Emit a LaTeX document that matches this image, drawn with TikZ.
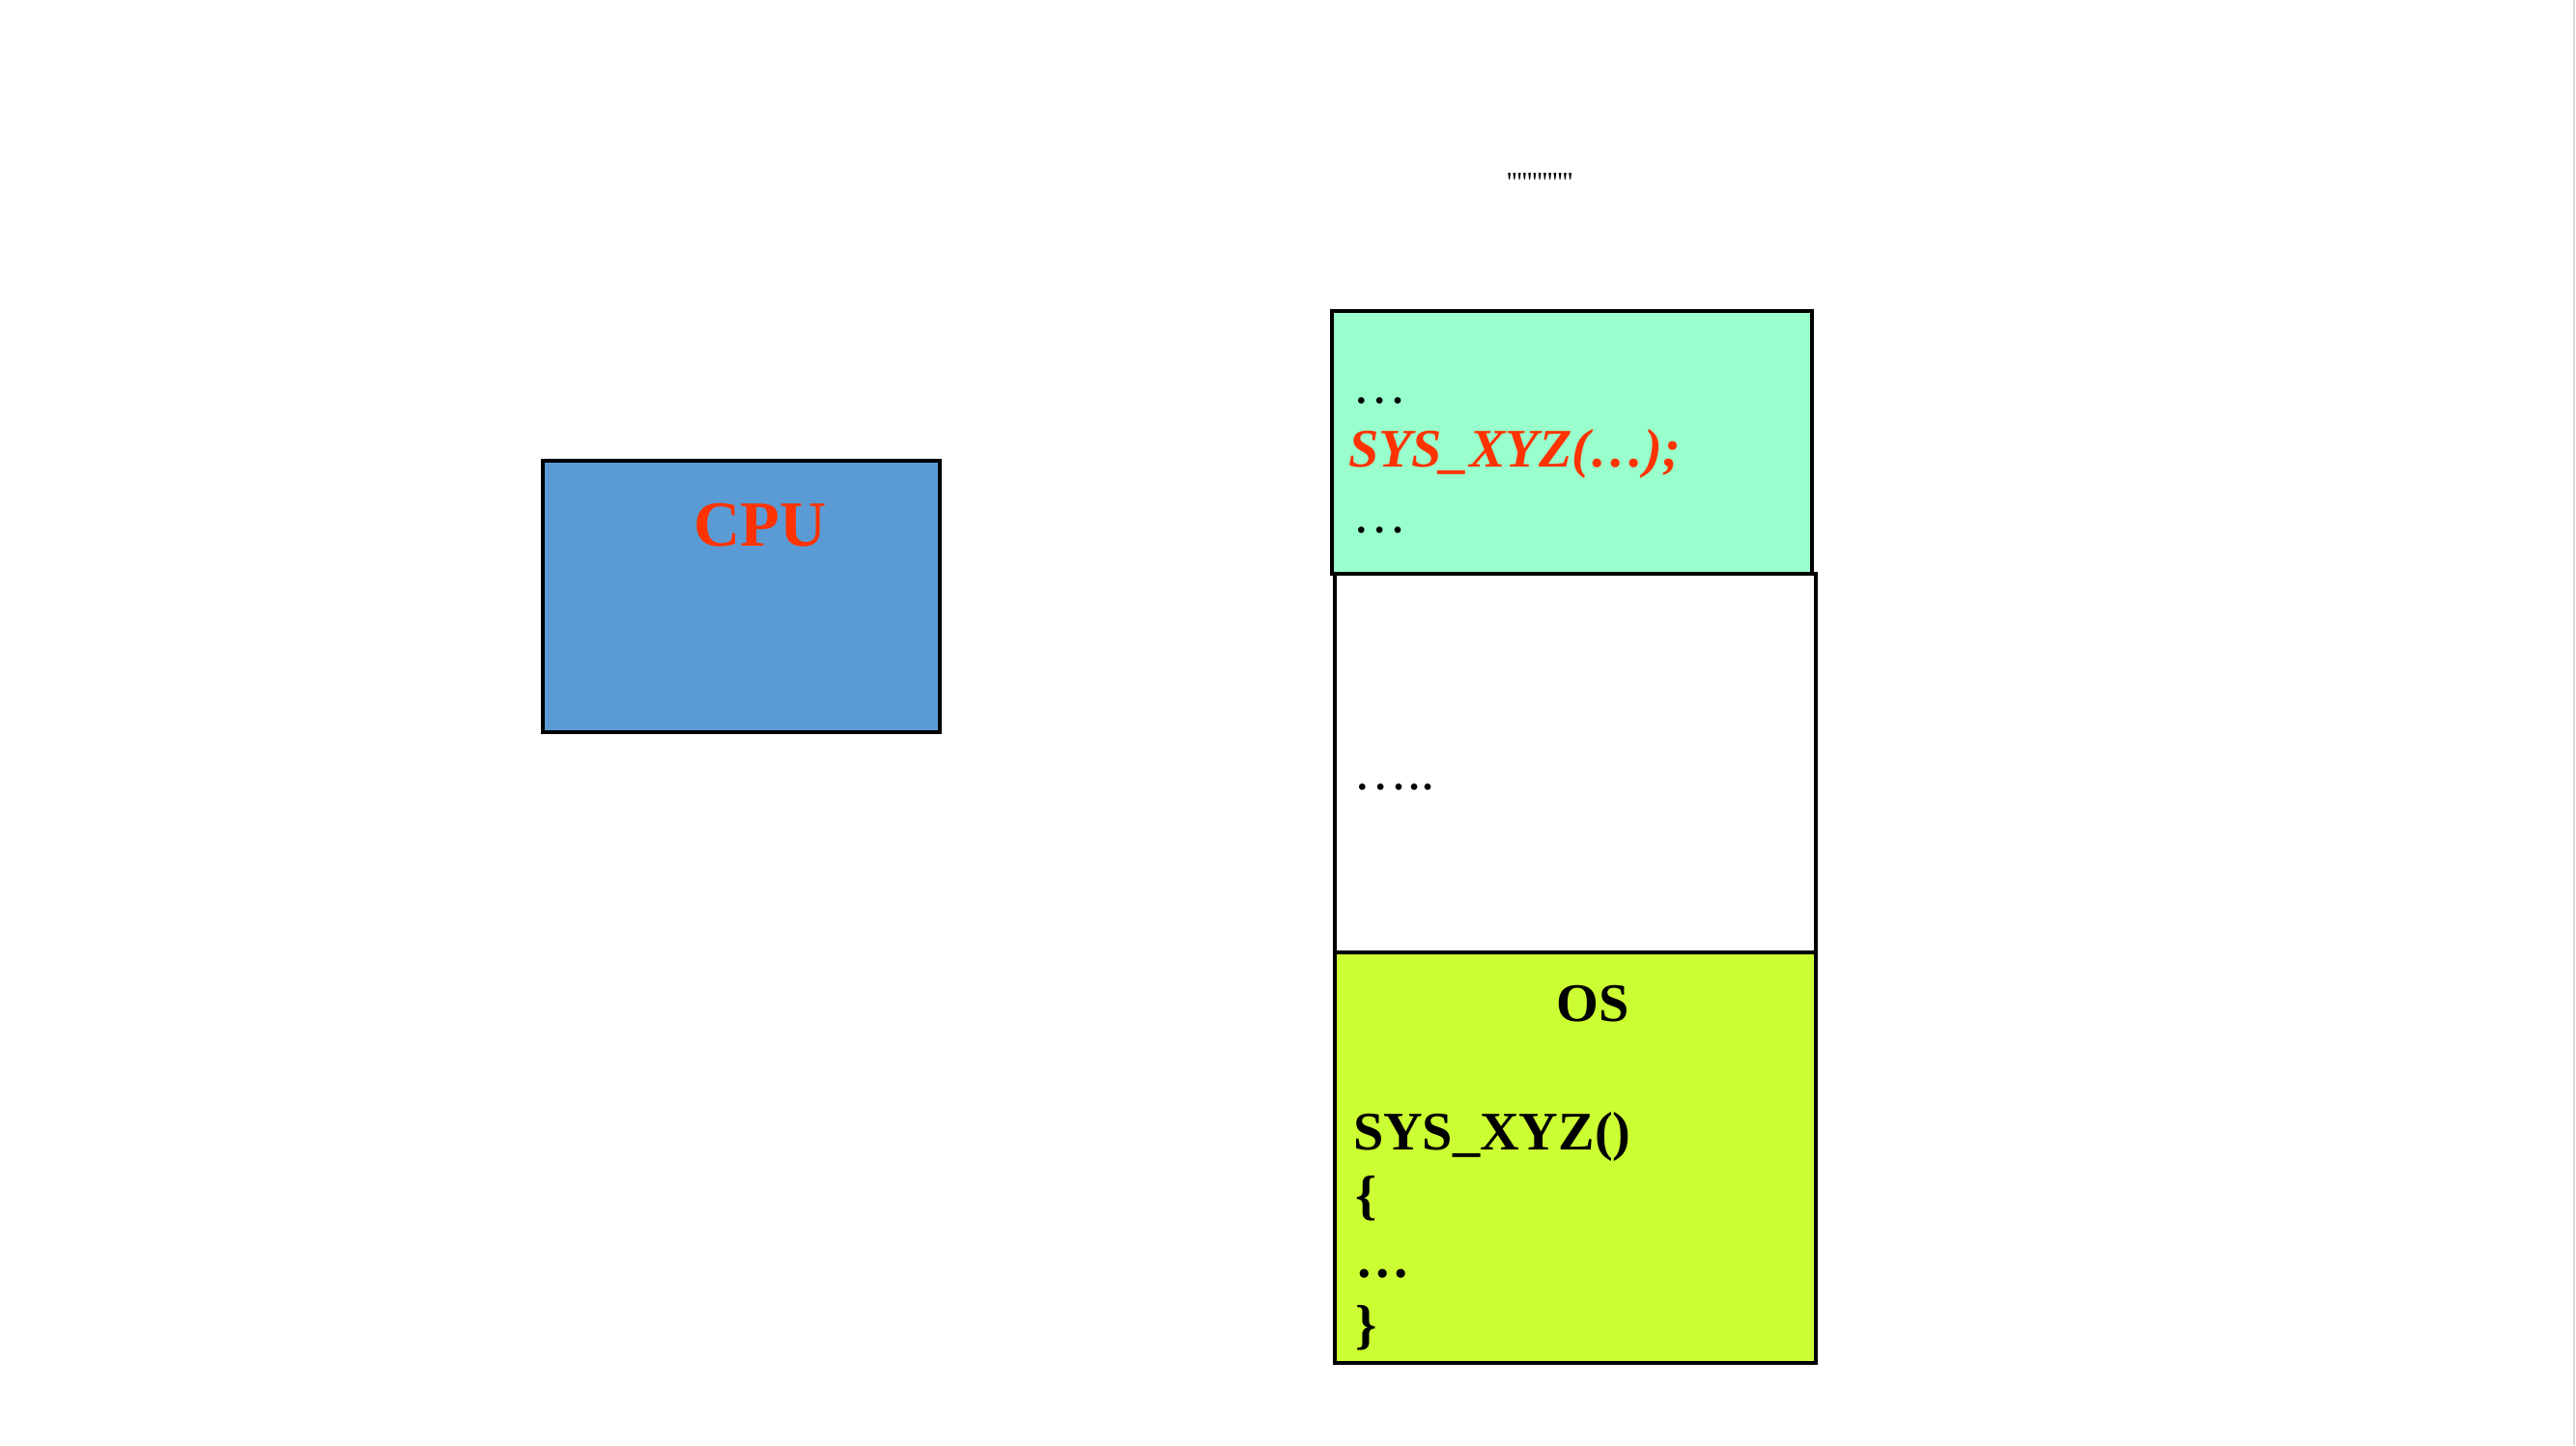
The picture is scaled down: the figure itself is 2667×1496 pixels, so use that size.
\documentclass[tikz,border=0pt]{standalone}
\usepackage{fontspec}
\setmainfont{Liberation Serif}
\usepackage{tikz}

\definecolor{cpublue}{HTML}{5B9BD5}
\definecolor{callred}{HTML}{FF3300}
\definecolor{usergreen}{HTML}{99FFCC}
\definecolor{oslime}{HTML}{CCFF33}

\newcommand{\ticks}{\foreach \k in {1,...,13}{\textquotesingle}}

\begin{document}
\begin{tikzpicture}[x=0.01cm,y=-0.01cm,line width=0.9pt,
  every node/.style={inner sep=0pt,outer sep=0pt},
  txt/.style={anchor=base west,font=\fontsize{16}{18}\selectfont}]

\useasboundingbox [fill=white] (0,0) rectangle (2667,1496);
\draw [black!15,line width=0.6pt] (2665,0) -- (2665,1496);

% processor
\draw [fill=cpublue] (562,477) rectangle (973,758);
\node (cpu) [anchor=base,text=callred,font=\fontsize{19}{22}\selectfont\bfseries] at (787,565) {CPU};

% memory column
\draw [fill=usergreen] (1379,322) rectangle (1876,594);
\draw [fill=white] (1382,594) rectangle (1880,986);
\draw [fill=oslime] (1382,986) rectangle (1880,1411);

\node (marks) [anchor=base west,font=\fontsize{8.3}{10}\selectfont] at (1560,198) {\ticks};

% user program
\node (udotsa) [txt] at (1400,417) {…};
\node (ucall) [txt,text=callred,font=\fontsize{16}{18}\selectfont\bfseries\itshape] at (1396,483) {SYS\_XYZ(…);};
\node (udotsb) [txt] at (1400,551) {…};

\node (gap) [txt] at (1401,817) {…..};

% kernel
\node (os) [anchor=base,font=\fontsize{16}{18}\selectfont\bfseries] at (1649,1057) {OS};
\node (kname) [txt,font=\fontsize{16}{18}\selectfont\bfseries] at (1401,1190) {SYS\_XYZ()};
\node (kopen) [txt,font=\fontsize{16}{18}\selectfont\bfseries] at (1403,1256) {\{};
\node (kdots) [txt,font=\fontsize{16}{18}\selectfont\bfseries] at (1403,1322) {…};
\node (kclose) [txt,font=\fontsize{16}{18}\selectfont\bfseries] at (1403,1390) {\}};

\end{tikzpicture}
\end{document}
